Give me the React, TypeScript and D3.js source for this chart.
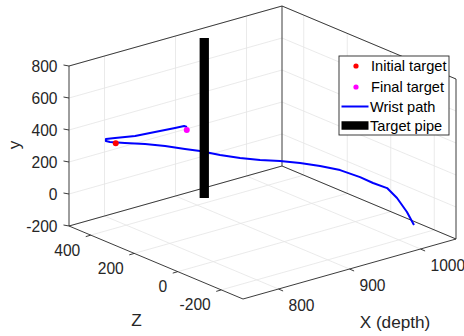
import * as d3 from "d3";
import { useRef, useEffect } from "react";

// wrist path samples (depth X, lateral Z, height y)
const wristX = [1000, 995, 985, 975, 965, 955, 940, 925, 910, 895, 880, 865, 850, 835, 822, 810, 798, 788, 781, 779, 780, 790, 810, 830, 850, 860, 862];
const wristZ = [-270, -254, -241, -228, -196, -169, -126, -83, -40, 3, 46, 89, 132, 175, 202, 254, 307, 367, 413, 425, 428, 419, 392, 366, 339, 330, 323];
const wristY = [-67, 11, 104, 171, 197, 231, 269, 289, 302, 308, 309, 316, 329, 348, 361, 365, 362, 347, 336, 338, 347, 346, 349, 364, 379, 384, 380];

const initialTarget = [780, 383, 346];
const finalTarget = [865, 334, 351];
const pipeXZ = [920, 433];
const pipeY = [-200, 800];

const xTicks = [800, 900, 1000];
const zTicks = [-200, 0, 200, 400];
const yTicks = [-200, 0, 200, 400, 600, 800];

const legendLabels = ["Initial target", "Final target", "Wrist path", "Target pipe"];

export default function App() {
  const svgRef = useRef(null);
  const width = 464;
  const height = 336;

  useEffect(() => {
    const svg = d3.select(svgRef.current);
    svg.selectAll("*").remove();

    // projection of the 3D box onto the page
    const fx = d3.scaleLinear().domain([750, 1050]).range([0, 1]);
    const fz = d3.scaleLinear().domain([500, -300]).range([0, 1]);
    const fy = d3.scaleLinear().domain([-200, 800]).range([0, 1]);
    const ox = 69, oy = 226;
    const proj = (X, Z, Y) => [
      ox + fx(X) * 213 + fz(Z) * 174,
      oy - fx(X) * 60 + fz(Z) * 73 - fy(Y) * 160,
    ];
    const [xMin, xMax] = fx.domain();
    const [zMax, zMin] = fz.domain();
    const [yMin, yMax] = fy.domain();

    const line = d3.line();
    const seg = (pts, stroke, w) =>
      svg.append("path")
        .attr("d", line(pts))
        .attr("fill", "none")
        .attr("stroke", stroke)
        .attr("stroke-width", w);

    const grid = "#e5e5e5";
    // back-left wall (Z = max)
    xTicks.forEach(t => seg([proj(t, zMax, yMin), proj(t, zMax, yMax)], grid, 0.8));
    yTicks.forEach(t => seg([proj(xMin, zMax, t), proj(xMax, zMax, t)], grid, 0.8));
    // back-right wall (X = max)
    zTicks.forEach(t => seg([proj(xMax, t, yMin), proj(xMax, t, yMax)], grid, 0.8));
    yTicks.forEach(t => seg([proj(xMax, zMin, t), proj(xMax, zMax, t)], grid, 0.8));
    // floor
    xTicks.forEach(t => seg([proj(t, zMax, yMin), proj(t, zMin, yMin)], grid, 0.8));
    zTicks.forEach(t => seg([proj(xMin, t, yMin), proj(xMax, t, yMin)], grid, 0.8));

    const edge = "#262626";
    // box edges of the back planes
    seg([proj(xMin, zMax, yMax), proj(xMax, zMax, yMax), proj(xMax, zMin, yMax), proj(xMax, zMin, yMin)], edge, 0.9);
    seg([proj(xMax, zMax, yMax), proj(xMax, zMax, yMin)], edge, 0.9);
    seg([proj(xMin, zMax, yMin), proj(xMax, zMax, yMin), proj(xMax, zMin, yMin)], edge, 0.9);
    // axes
    seg([proj(xMin, zMax, yMax), proj(xMin, zMax, yMin), proj(xMin, zMin, yMin), proj(xMax, zMin, yMin)], edge, 0.9);

    const tickFont = "15.6px";
    const ff = "'Liberation Sans', Arial, Helvetica, sans-serif";

    // y ticks
    yTicks.forEach(t => {
      const [px, py] = proj(xMin, zMax, t);
      seg([[px, py], [px - 5.5, py - 1]], edge, 0.9);
      svg.append("text")
        .attr("x", px - 11.5).attr("y", py)
        .attr("dy", "0.36em")
        .attr("text-anchor", "end")
        .attr("fill", edge)
        .style("font-family", ff).style("font-size", tickFont)
        .text(t);
    });
    // Z ticks
    zTicks.forEach(t => {
      const [px, py] = proj(xMin, t, yMin);
      seg([[px, py], [px - 5, py + 1.5]], edge, 0.9);
      svg.append("text")
        .attr("x", px - 10.5).attr("y", py + 15)
        .attr("dy", "0.36em")
        .attr("text-anchor", "end")
        .attr("fill", edge)
        .style("font-family", ff).style("font-size", tickFont)
        .text(t);
    });
    // X ticks
    xTicks.forEach(t => {
      const [px, py] = proj(t, zMin, yMin);
      seg([[px, py], [px + 4.6, py + 2]], edge, 0.9);
      svg.append("text")
        .attr("x", px + 10).attr("y", py + 16.5)
        .attr("dy", "0.36em")
        .attr("text-anchor", "start")
        .attr("fill", edge)
        .style("font-family", ff).style("font-size", tickFont)
        .text(t);
    });

    // axis labels
    svg.append("text")
      .attr("transform", "translate(14,145) rotate(-90)")
      .attr("dy", "0.36em")
      .attr("text-anchor", "middle")
      .attr("fill", edge)
      .style("font-family", ff).style("font-size", "17.2px")
      .text("y");
    svg.append("text")
      .attr("x", 136.5).attr("y", 320)
      .attr("dy", "0.36em")
      .attr("text-anchor", "middle")
      .attr("fill", edge)
      .style("font-family", ff).style("font-size", "17.2px")
      .text("Z");
    svg.append("text")
      .attr("x", 395).attr("y", 322)
      .attr("dy", "0.36em")
      .attr("text-anchor", "middle")
      .attr("fill", edge)
      .style("font-family", ff).style("font-size", "17.2px")
      .text("X (depth)");

    // wrist path
    const pathPts = wristX.map((x, i) => proj(x, wristZ[i], wristY[i]));
    svg.append("path")
      .attr("d", line(pathPts))
      .attr("fill", "none")
      .attr("stroke", "#0000ff")
      .attr("stroke-width", 2)
      .attr("stroke-linejoin", "round");

    // targets
    const [ix, iy] = proj(initialTarget[0], initialTarget[1], initialTarget[2]);
    svg.append("circle").attr("cx", ix).attr("cy", iy).attr("r", 3).attr("fill", "#ff0000");
    const [gx, gy] = proj(finalTarget[0], finalTarget[1], finalTarget[2]);
    svg.append("circle").attr("cx", gx).attr("cy", gy).attr("r", 3).attr("fill", "#ff00ff");

    // target pipe
    svg.append("path")
      .attr("d", line([proj(pipeXZ[0], pipeXZ[1], pipeY[0]), proj(pipeXZ[0], pipeXZ[1], pipeY[1])]))
      .attr("stroke", "#000")
      .attr("stroke-width", 9.3);

    // legend
    const lg = svg.append("g").attr("transform", "translate(339,56)");
    lg.append("rect")
      .attr("x", 0).attr("y", 0)
      .attr("width", 110).attr("height", 79)
      .attr("fill", "#fff")
      .attr("stroke", edge)
      .attr("stroke-width", 0.9);
    const rowY = [10, 31, 50.5, 69.5];
    lg.append("circle").attr("cx", 17).attr("cy", rowY[0]).attr("r", 2.6).attr("fill", "#ff0000");
    lg.append("circle").attr("cx", 17).attr("cy", rowY[1]).attr("r", 2.6).attr("fill", "#ff00ff");
    lg.append("line").attr("x1", 2.5).attr("x2", 29.5).attr("y1", rowY[2]).attr("y2", rowY[2])
      .attr("stroke", "#0000ff").attr("stroke-width", 2);
    lg.append("line").attr("x1", 2.5).attr("x2", 29.5).attr("y1", rowY[3]).attr("y2", rowY[3])
      .attr("stroke", "#000").attr("stroke-width", 8.5);
    legendLabels.forEach((l, i) => {
      lg.append("text")
        .attr("x", i < 2 ? 32 : 31).attr("y", rowY[i])
        .attr("dy", "0.36em")
        .attr("fill", "#000")
        .style("font-family", ff).style("font-size", "14.6px")
        .text(l);
    });
  }, []);

  return (
    <svg
      ref={svgRef}
      width={width}
      height={height}
      style={{ position: "absolute", left: 0, top: 0, background: "#fff" }}
    />
  );
}
